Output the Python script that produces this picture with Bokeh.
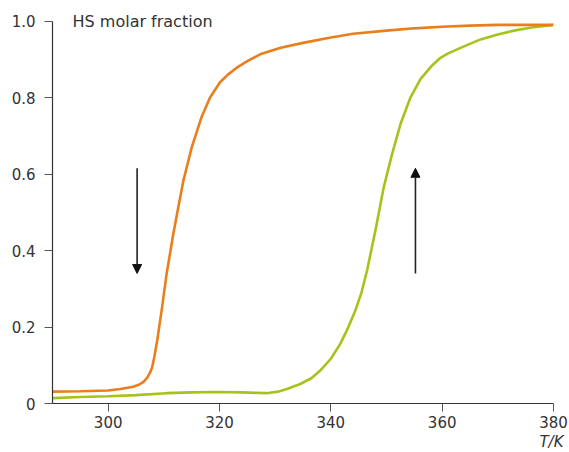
from bokeh.plotting import figure
from bokeh.models import Range1d, FixedTicker, Label, Arrow, NormalHead, Title
from bokeh.embed import file_html
from bokeh.resources import INLINE

# cooling branch (orange)
cool_T = [290, 295, 300, 302.2, 304.5, 305.5, 306.3, 307.0, 307.5, 307.9, 308.3, 308.8, 309.6,
          310.5, 311.7, 312.6, 313.5, 314.4, 315.0, 316.8, 318.3, 320.1, 321.5, 323.1, 325,
          327.3, 331, 335, 340, 344, 350, 355, 360, 365, 370, 375, 380]
cool_x = [0.031, 0.032, 0.034, 0.038, 0.044, 0.049, 0.056, 0.067, 0.080, 0.095, 0.122, 0.164,
          0.243, 0.339, 0.443, 0.513, 0.582, 0.634, 0.669, 0.75, 0.80, 0.84, 0.86, 0.878, 0.895,
          0.913, 0.93, 0.943, 0.957, 0.967, 0.975, 0.981, 0.985, 0.988, 0.99, 0.99, 0.99]

# heating branch (green)
heat_T = [290, 295, 300, 305, 310.5, 315, 319.5, 324, 328.5, 330.5, 332.1, 334.5, 336.5,
          338.1, 340, 341.7, 343, 344.4, 345.5, 346.5, 348, 349.5, 351, 352.5, 354.3, 356.1,
          358, 359.7, 361, 363.3, 366.9, 370, 372.9, 376, 380]
heat_x = [0.014, 0.017, 0.019, 0.022, 0.027, 0.029, 0.030, 0.029, 0.027, 0.031, 0.038, 0.051,
          0.066, 0.086, 0.117, 0.156, 0.195, 0.243, 0.29, 0.347, 0.452, 0.565, 0.652, 0.73,
          0.80, 0.848, 0.881, 0.904, 0.915, 0.93, 0.952, 0.965, 0.975, 0.983, 0.99]

x_ticks = [300, 320, 340, 360, 380]
y_ticks = [0, 0.2, 0.4, 0.6, 0.8, 1.0]
y_tick_labels = ["0", "0.2", "0.4", "0.6", "0.8", "1.0"]

# arrows: x position, start, end
arrow_x = [305.2, 355.2]
arrow_y0 = [0.615, 0.34]
arrow_y1 = [0.34, 0.615]

FONT = "DejaVu Sans"
TXT = "#333333"

p = figure(width=569, height=452, output_backend="svg", toolbar_location=None,
           x_range=Range1d(290, 380), y_range=Range1d(0, 1.025),
           min_border_left=52, min_border_right=16, min_border_top=11, min_border_bottom=49)
p.outline_line_color = None
p.grid.visible = False
p.background_fill_color = "white"
p.border_fill_color = "white"

p.line(heat_T, heat_x, line_color="#A6C31B", line_width=2.6)
p.line(cool_T, cool_x, line_color="#EA7E1C", line_width=2.6)

for ax in (p.xaxis[0], p.yaxis[0]):
    ax.axis_line_color = "#333333"
    ax.axis_line_width = 1.2
    ax.major_tick_line_color = "#555555"
    ax.major_tick_out = 8
    ax.major_tick_in = 0
    ax.minor_tick_line_color = None
    ax.major_label_text_font = FONT
    ax.major_label_text_font_size = "15px"
    ax.major_label_text_color = TXT

p.xaxis.ticker = FixedTicker(ticks=x_ticks)
p.xaxis.major_label_standoff = 4
p.yaxis.ticker = FixedTicker(ticks=y_ticks)
p.yaxis.bounds = (0, 1.0)
p.yaxis.major_label_overrides = {t: l for t, l in zip(y_ticks, y_tick_labels)}
p.yaxis.major_label_standoff = 9

p.add_layout(Label(x=293.6, y=1.0, text="HS molar fraction", text_font=FONT,
                   text_font_size="16px", text_color=TXT, text_baseline="middle"))

p.add_layout(Title(text="T/K", align="right", offset=-10, standoff=0,
                   text_font=FONT, text_font_size="15px", text_font_style="italic",
                   text_color=TXT), "below")

for ax_, a0, a1 in zip(arrow_x, arrow_y0, arrow_y1):
    p.add_layout(Arrow(x_start=ax_, y_start=a0, x_end=ax_, y_end=a1,
                       line_color="#222222", line_width=1.6,
                       end=NormalHead(size=9, fill_color="#111111", line_color="#111111")))

open("out.html", "w").write(file_html(p, INLINE))
